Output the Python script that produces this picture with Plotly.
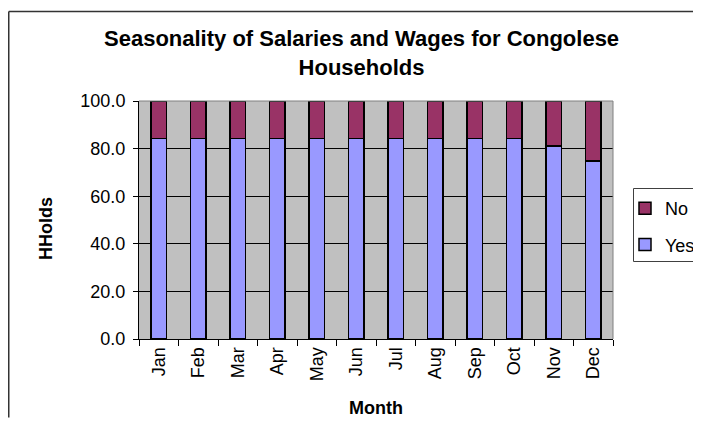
import plotly.graph_objects as go

months = ["Jan", "Feb", "Mar", "Apr", "May", "Jun", "Jul", "Aug", "Sep", "Oct", "Nov", "Dec"]
yes_vals = [84.2, 84.2, 84.2, 84.2, 84.2, 84.2, 84.2, 84.2, 84.2, 84.2, 81.0, 74.8]
no_vals = [15.8, 15.8, 15.8, 15.8, 15.8, 15.8, 15.8, 15.8, 15.8, 15.8, 19.0, 25.2]
y_ticks = [0, 20, 40, 60, 80, 100]

OFF = 8  # page body margin
W, H = 701 - OFF, 426 - 2 * OFF
L, R, T, B = 139 - OFF, 613 - OFF, 101 - OFF, 339 - OFF  # plot area in figure pixels


def px(x):
    return (x - OFF - L) / (R - L)


def py(y):
    return (B - (y - OFF)) / (B - T)


FONT = "Liberation Sans, Arial, sans-serif"

fig = go.Figure()
fig.add_trace(go.Bar(x=months, y=yes_vals, name="Yes", legendgroup="yes", legendrank=2,
                     marker=dict(color="#9999FF", line=dict(color="black", width=1.5))))
fig.add_trace(go.Bar(x=months, y=no_vals, name="No", legendgroup="no", legendrank=1,
                     marker=dict(color="#993366", line=dict(color="black", width=1.5))))


def hline(x0, x1, y, color, width):
    return dict(type="line", xref="paper", yref="paper", x0=px(x0), x1=px(x1),
                y0=py(y), y1=py(y), line=dict(color=color, width=width))


def vline(x, y0, y1, color, width):
    return dict(type="line", xref="paper", yref="paper", x0=px(x), x1=px(x),
                y0=py(y0), y1=py(y1), line=dict(color=color, width=width))


XMAX, YMAX = OFF + W - 0.5, OFF + H - 0.5  # keep shapes inside the figure

fig.update_layout(
    width=W, height=H,
    barmode="stack", bargap=0.6,
    margin=dict(l=L, r=W - R, t=T, b=H - B, autoexpand=False),
    paper_bgcolor="white", plot_bgcolor="#C0C0C0",
    font=dict(family=FONT, size=18, color="black"),
    showlegend=True,
    legend=dict(x=px(625), y=py(190), xanchor="left", yanchor="top",
                traceorder="grouped", bgcolor="rgba(0,0,0,0)",
                font=dict(size=18), tracegroupgap=10, itemwidth=30),
    xaxis=dict(type="category", ticks="outside", tickson="boundaries", ticklen=6,
               tickcolor="black", showline=True, linecolor="black", linewidth=1,
               tickangle=-90, tickfont=dict(size=18), showgrid=False),
    yaxis=dict(range=[0, 100], tickvals=y_ticks, tickformat=".1f", ticks="outside",
               ticklen=5, tickcolor="black", showline=True, linecolor="black",
               linewidth=1, showgrid=True, gridcolor="black", gridwidth=1,
               tickfont=dict(size=18), zeroline=False, ticklabelstandoff=4),
    annotations=[
        dict(text="<b>Seasonality of Salaries and Wages for Congolese<br>Households</b>",
             xref="paper", yref="paper", x=px(361), y=py(53), xanchor="center",
             yanchor="middle", showarrow=False, font=dict(size=22, family=FONT)),
        dict(text="<b>HHolds</b>", xref="paper", yref="paper", x=px(46), y=py(229),
             xanchor="center", yanchor="middle", textangle=-90, showarrow=False,
             font=dict(size=18, family=FONT)),
        dict(text="<b>Month</b>", xref="paper", yref="paper", x=px(376), y=py(408),
             xanchor="center", yanchor="middle", showarrow=False,
             font=dict(size=18, family=FONT)),
    ],
    shapes=[
        # chart area border (runs to the right and bottom edges)
        hline(OFF + 0.75, XMAX, 11.5, "#333333", 1.5),
        vline(OFF + 0.75, 11.5, YMAX, "#333333", 1.5),
        # legend box border (runs to the right edge)
        hline(633.5, XMAX, 188.5, "#404040", 1),
        hline(633.5, XMAX, 261.5, "#404040", 1),
        vline(633.5, 188.5, 261.5, "#404040", 1),
        # plot area top / right edges
        dict(type="line", xref="paper", yref="paper", x0=0, x1=1, y0=1, y1=1,
             line=dict(color="#808080", width=1)),
        dict(type="line", xref="paper", yref="paper", x0=1, x1=1, y0=0, y1=1,
             line=dict(color="#808080", width=1)),
    ],
)

fig.write_html("out.html")
